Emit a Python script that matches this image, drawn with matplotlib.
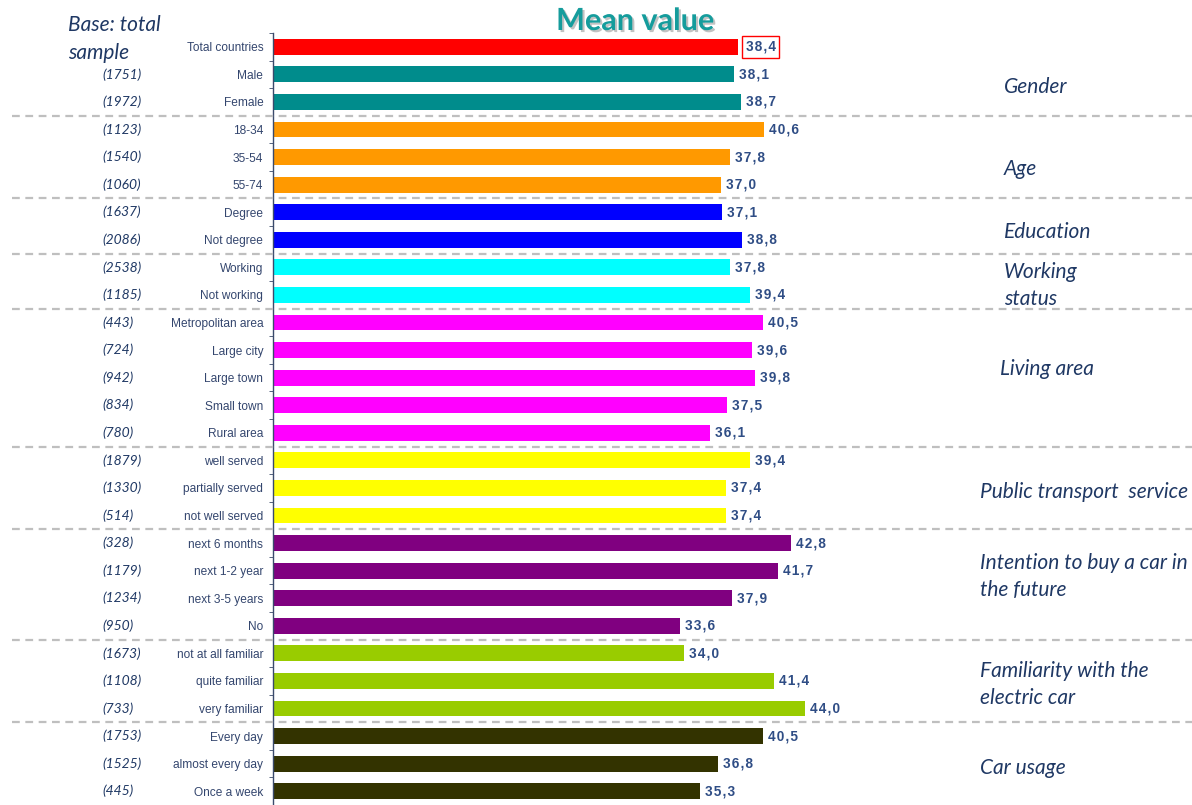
import matplotlib
matplotlib.use("Agg")
import matplotlib.pyplot as plt
import matplotlib.transforms as mtransforms
import matplotlib.patheffects as pe
from matplotlib.lines import Line2D
import numpy as np

categories = ["Total countries", "Male", "Female", "18-34", "35-54", "55-74",
              "Degree", "Not degree", "Working", "Not working",
              "Metropolitan area", "Large city", "Large town", "Small town", "Rural area",
              "well served", "partially served", "not well served",
              "next 6 months", "next 1-2 year", "next 3-5 years", "No",
              "not at all familiar", "quite familiar", "very familiar",
              "Every day", "almost every day", "Once a week"]
values = [38.4, 38.1, 38.7, 40.6, 37.8, 37.0, 37.1, 38.8, 37.8, 39.4,
          40.5, 39.6, 39.8, 37.5, 36.1, 39.4, 37.4, 37.4,
          42.8, 41.7, 37.9, 33.6, 34.0, 41.4, 44.0, 40.5, 36.8, 35.3]
bases = ["", "(1751)", "(1972)", "(1123)", "(1540)", "(1060)", "(1637)", "(2086)",
         "(2538)", "(1185)", "(443)", "(724)", "(942)", "(834)", "(780)",
         "(1879)", "(1330)", "(514)", "(328)", "(1179)", "(1234)", "(950)",
         "(1673)", "(1108)", "(733)", "(1753)", "(1525)", "(445)"]
group_sizes = [1, 2, 3, 2, 2, 5, 3, 4, 3, 3]
group_colors = ["#FF0000", "#008C8C", "#FF9900", "#0000FF", "#00FFFF", "#FF00FF",
                "#FFFF00", "#800080", "#99CC00", "#333300"]
group_names = ["Gender", "Age", "Education", "Working\nstatus", "Living area",
               "Public transport  service", "Intention to buy a car in\nthe future",
               "Familiarity with the\nelectric car", "Car usage"]

W, H = 1192, 805
fig = plt.figure(figsize=(W / 100, H / 100), dpi=100)
ax_left = 273 / W
ax_top = 1 - 33 / H
ax = fig.add_axes([ax_left, 0.0, 1 - ax_left, ax_top])

px_per_unit = 12.1
ax.set_xlim(0, (W - 273) / px_per_unit)
nrows = len(categories)
row_px = 27.6
ax.set_ylim(-0.5 + (H - 33) / row_px, -0.5)

bar_colors = []
for c, n in zip(group_colors, group_sizes):
    bar_colors += [c] * n
y = np.arange(nrows)
ax.barh(y, values, height=0.58, color=bar_colors, zorder=2)

label_col = "#2F4D85"
text_col = "#34466E"
navy = "#1F3864"

for i, v in enumerate(values):
    s = f"{v:.1f}".replace(".", ",")
    s = "\u200a".join(s)
    kw = {}
    if i == 0:
        kw["bbox"] = dict(boxstyle="square,pad=0.28", fc="white", ec="red", lw=1.0)
    ax.annotate(s, (v, i), xytext=(8 if i == 0 else 5, 0), textcoords="offset pixels",
                ha="left", va="center", fontsize=9.8, fontweight="bold",
                color=label_col, family=["Liberation Sans", "DejaVu Sans"], **kw)

# axis styling
for sp in ["top", "right", "bottom"]:
    ax.spines[sp].set_visible(False)
ax.spines["left"].set_color("#3A4A6B")
ax.spines["left"].set_linewidth(1.0)
ax.set_xticks([])
ax.set_yticks(y)
ax.set_yticklabels(categories, fontsize=8.6, color=text_col,
                   family=["Liberation Sans Narrow", "Liberation Sans"])
ax.tick_params(axis="y", which="major", length=0, pad=7)
ax.set_yticks(np.arange(-0.5, nrows, 1.0), minor=True)
ax.tick_params(axis="y", which="minor", length=3, color="#3A4A6B", direction="out")

# base counts
trans_fig_data = mtransforms.blended_transform_factory(fig.transFigure, ax.transData)
for i, b in enumerate(bases):
    if b:
        ax.text(102 / W, i, b, transform=trans_fig_data, ha="left", va="center",
                fontsize=10, style="italic", color=navy, family=["Lato", "DejaVu Sans"])

# separators
bounds = np.cumsum(group_sizes)[:-1]
for b in bounds:
    if b == 1:
        continue
    yy = b - 0.5
    ln = Line2D([12 / W, 1.0], [yy, yy], transform=trans_fig_data, color="#BFBFBF",
                lw=1.6, linestyle=(0, (3.5, 2.5)), clip_on=False, zorder=1)
    fig.add_artist(ln)

# group labels
group_pos = [(1004, 1.45), (1004, 4.42), (1004, 6.72), (1004, 8.65), (1000, 11.67),
             (980, 16.16), (980, 19.2), (980, 23.13), (980, 26.15)]
for name, (gx, gy) in zip(group_names, group_pos):
    ax.text(gx / W, gy, name, transform=trans_fig_data, ha="left", va="center",
            fontsize=15, style="italic", color=navy, linespacing=1.45,
            family=["Lato", "DejaVu Sans"])

# base note
fig.text(68 / W, 1 - 39 / H, "Base: total\nsample", ha="left", va="center",
         fontsize=15, style="italic", color=navy, linespacing=1.45,
         family=["Lato", "DejaVu Sans"])

# title
t = fig.text(635 / W, 1 - 21 / H, "Mean value", ha="center", va="center",
             fontsize=22, fontweight="bold", color="#159C9C",
             family=["Lato", "DejaVu Sans"])
t.set_path_effects([pe.SimplePatchShadow(offset=(1.5, -1.5), shadow_rgbFace="#9A9A9A", alpha=0.6),
                    pe.Normal()])

fig.savefig("out.png", dpi=100, facecolor="white")
